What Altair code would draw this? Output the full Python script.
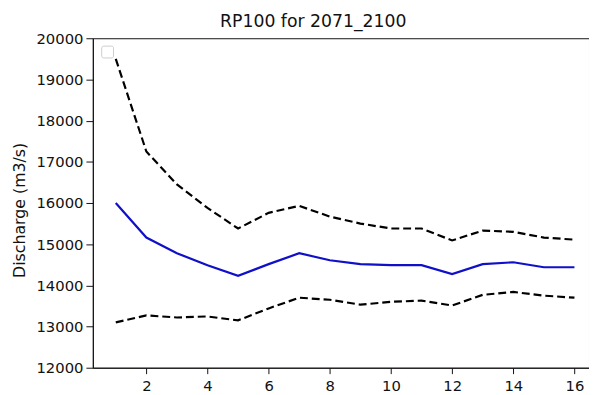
import altair as alt
import pandas as pd

x_vals = list(range(1, 17))
upper = [19500, 17250, 16450, 15880, 15380, 15760, 15930, 15670, 15500, 15380,
         15380, 15090, 15330, 15300, 15160, 15110]
median = [16000, 15160, 14780, 14490, 14230, 14515, 14780, 14610, 14515, 14490,
          14490, 14275, 14515, 14560, 14440, 14440]
lower = [13100, 13270, 13220, 13245, 13150, 13440, 13700, 13650, 13530, 13600,
         13630, 13510, 13770, 13840, 13750, 13700]
x_ticks = [2, 4, 6, 8, 10, 12, 14, 16]
y_ticks = list(range(12000, 20001, 1000))

rows = []
for i, xv in enumerate(x_vals):
    rows.append({"x": xv, "value": upper[i], "series": "upper"})
    rows.append({"x": xv, "value": median[i], "series": "median"})
    rows.append({"x": xv, "value": lower[i], "series": "lower"})
df = pd.DataFrame(rows)

FONT = "DejaVu Sans"
W, H = 503, 334
INK = "#111111"
LBL = 15

xscale = alt.Scale(domain=[0.25, 0.25 + W / 31.0], nice=False, zero=False)
yscale = alt.Scale(domain=[12000, 20000], nice=False, zero=False)

xaxis = alt.Axis(values=x_ticks, grid=False, title=None, format="d",
                 labelFontSize=LBL, labelColor=INK, tickColor=INK,
                 domainColor=INK, tickSize=6, labelPadding=5, labelFont=FONT)
yaxis = alt.Axis(values=y_ticks, grid=False, format="d",
                 title="Discharge (m3/s)", titleFontSize=16, titleFontWeight="normal",
                 titleFont=FONT, titleColor=INK, titleX=-74, titleY=174,
                 titleAngle=270, titleAlign="center", titleBaseline="middle",
                 labelFontSize=LBL, labelColor=INK, tickColor=INK,
                 domainColor=INK, tickSize=7, labelPadding=3, labelFont=FONT)

base = alt.Chart(df)

dash_lines = base.transform_filter(alt.datum.series != "median").mark_line(
    color="black", strokeWidth=2.2, strokeDash=[8, 4], clip=True
).encode(
    x=alt.X("x:Q", scale=xscale, axis=xaxis),
    y=alt.Y("value:Q", scale=yscale, axis=yaxis),
    detail="series:N",
)

mid_line = base.transform_filter(alt.datum.series == "median").mark_line(
    color="#1010c8", strokeWidth=2.2, clip=True
).encode(
    x=alt.X("x:Q", scale=xscale, axis=xaxis),
    y=alt.Y("value:Q", scale=yscale, axis=yaxis),
)

legend_box = alt.Chart(pd.DataFrame({"a": [0]})).mark_rect(
    fill="white", stroke="#cccccc", strokeWidth=1, cornerRadius=2
).encode(
    x=alt.value(9), x2=alt.value(21), y=alt.value(8), y2=alt.value(20)
)

chart = alt.layer(dash_lines, mid_line, legend_box).properties(
    width=W, height=H,
    title=alt.TitleParams("RP100 for 2071_2100", fontSize=17.5, fontWeight="normal",
                          font=FONT, color=INK, offset=1, dx=-28),
    autosize=alt.AutoSizeParams(type="none"),
    padding={"left": 86, "top": 28, "right": 0, "bottom": 25},
).configure(background="white").configure_view(stroke=INK, strokeWidth=1)

chart.save("out.html", embed_options={"renderer": "svg", "actions": False})
